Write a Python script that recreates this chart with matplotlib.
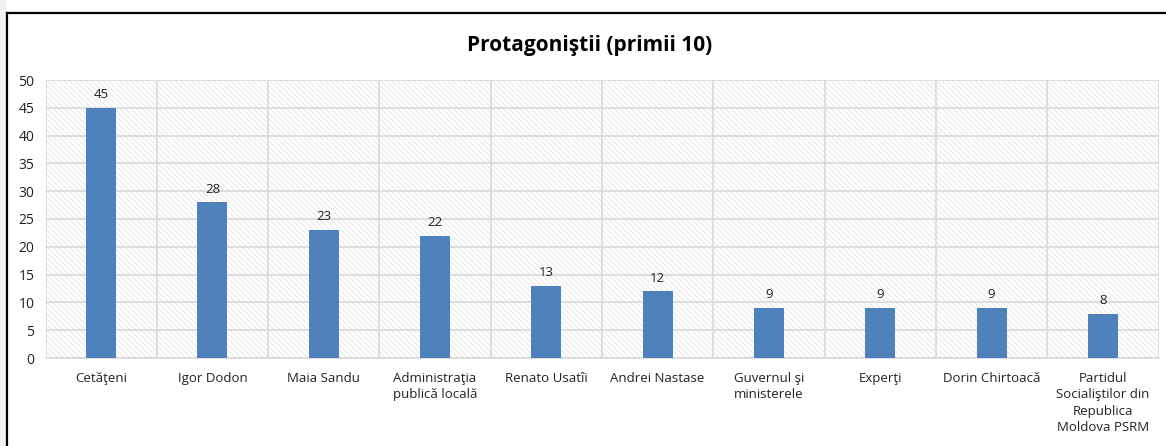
import numpy as np
import matplotlib.pyplot as plt
from matplotlib.patches import Rectangle
from matplotlib.lines import Line2D

# date
categorii = ["Cetăţeni", "Igor Dodon", "Maia Sandu", "Administraţia\npublică locală",
             "Renato Usatîi", "Andrei Nastase", "Guvernul şi\nministerele", "Experţi",
             "Dorin Chirtoacă", "Partidul\nSocialiştilor din\nRepublica\nMoldova PSRM"]
valori = [45, 28, 23, 22, 13, 12, 9, 9, 9, 8]

plt.rcParams['font.family'] = ['Open Sans', 'DejaVu Sans']
plt.rcParams['hatch.linewidth'] = 0.5

fig = plt.figure(figsize=(11.66, 4.46), dpi=100)
W, H = 1166, 446
ax = fig.add_axes([45.5 / W, 1 - 358 / H, 1113 / W, 278 / H])

# fundal cu hasura
ax.add_patch(Rectangle((0, 0), 1, 1, transform=ax.transAxes, facecolor='white',
                       edgecolor='#dedede', hatch='\\\\\\\\\\\\', linewidth=0, zorder=0))

x = np.arange(len(categorii))
ax.bar(x, valori, width=0.27, color='#4f81bd', zorder=3)
for xi, v in zip(x, valori):
    ax.text(xi, v + 1.2, str(v), ha='center', va='bottom', fontsize=9.5, color='#222222')

ax.set_xlim(-0.5, len(categorii) - 0.5)
ax.set_ylim(0, 50)
ax.set_yticks(range(0, 51, 5))
ax.set_xticks(x)
ax.set_xticklabels(categorii, fontsize=9.5, color='#222222', linespacing=1.35, va='top')
ax.tick_params(axis='x', length=0, pad=10)
ax.tick_params(axis='y', length=0, pad=8, labelsize=10, labelcolor='#222222')

# grila
ax.grid(axis='y', color='#d9d9d9', linewidth=1.2, zorder=1)
ax.set_xticks(np.arange(len(categorii) + 1) - 0.5, minor=True)
ax.grid(axis='x', which='minor', color='#d9d9d9', linewidth=1.2, zorder=1)
ax.tick_params(axis='x', which='minor', length=0)
ax.set_axisbelow(True)
for s in ['left', 'right', 'top']:
    ax.spines[s].set_visible(False)
ax.spines['bottom'].set_color('#d9d9d9')
ax.spines['bottom'].set_linewidth(1.2)

fig.text(590 / W, 1 - 45 / H, "Protagoniştii (primii 10)", ha='center', va='center',
         fontsize=15, fontweight='bold')

# chenar
fig.patches.append(Rectangle((0, 0), 6 / W, 1, transform=fig.transFigure,
                             facecolor='#f0f0f0', edgecolor='none'))
fig.add_artist(Line2D([6.5 / W, 6.5 / W], [0, 1 - 13 / H], color='black', linewidth=1.6,
                      transform=fig.transFigure))
fig.add_artist(Line2D([6.5 / W, 1], [1 - 13 / H, 1 - 13 / H], color='black', linewidth=1.6,
                      transform=fig.transFigure))

fig.savefig('out.png', dpi=100)
